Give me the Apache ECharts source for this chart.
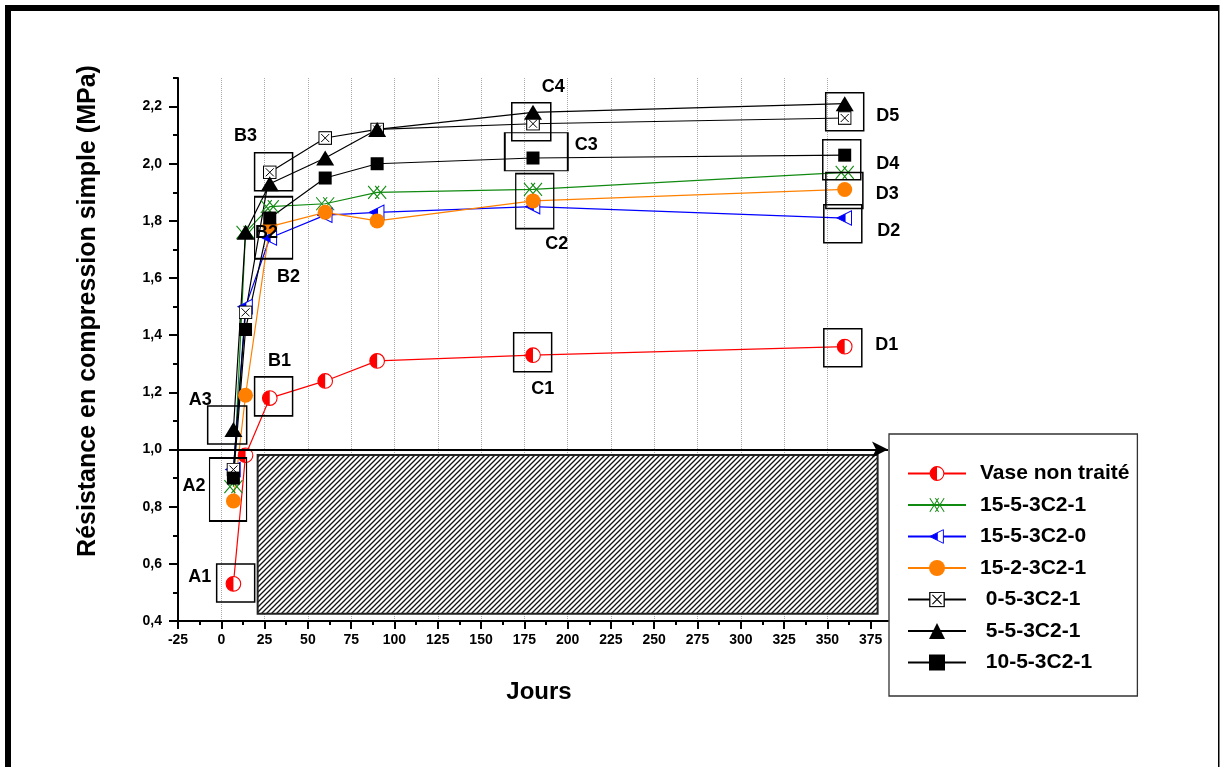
<!DOCTYPE html>
<html>
<head>
<meta charset="utf-8">
<script src="https://cdn.jsdelivr.net/npm/echarts@6/dist/echarts.min.js"></script>
<style>
  html, body { margin: 0; padding: 0; background: #fff; }
  #chart { width: 1222px; height: 767px; }
</style>
</head>
<body>
<div id="chart"></div>
<script>
// jours de cure
const days = [7, 14, 28, 60, 90, 180, 360];

// résistance (MPa) par formulation
const vaseNonTraite = [0.53, 0.98, 1.18, 1.24, 1.31, 1.33, 1.36];
const f15_5_1 = [0.87, 1.76, 1.85, 1.86, 1.90, 1.91, 1.97];
const f15_5_0 = [0.93, 1.50, 1.74, 1.82, 1.83, 1.85, 1.81];
const f15_2_1 = [0.82, 1.19, 1.78, 1.83, 1.80, 1.87, 1.91];
const f0_5_1 = [0.93, 1.48, 1.97, 2.09, 2.12, 2.14, 2.16];
const f5_5_1 = [1.07, 1.76, 1.93, 2.02, 2.12, 2.18, 2.21];
const f10_5_1 = [0.90, 1.42, 1.81, 1.95, 2.00, 2.02, 2.03];

// ticks
const xTickLabels = [-25, 0, 25, 50, 75, 100, 125, 150, 175, 200, 225, 250, 275, 300, 325, 350, 375];
const xMinorTicks = [-12.5, 12.5, 37.5, 62.5, 87.5, 112.5, 137.5, 162.5, 187.5, 212.5, 237.5, 262.5, 287.5, 312.5, 337.5, 362.5];
const yTickLabels = [0.4, 0.6, 0.8, 1.0, 1.2, 1.4, 1.6, 1.8, 2.0, 2.2];

// repères (cadres A1..D5), centres en coordonnées du graphe
const annotLabels = ['A1', 'A2', 'A3', 'B1', 'B2', 'B2', 'B3', 'C1', 'C2', 'C3', 'C4', 'D1', 'D2', 'D3', 'D4', 'D5'];
const annotDays = [8.3, 3.9, 3.4, 30.2, 30.2, 30.2, 30.2, 179.8, 181, 181.9, 179, 358.9, 358.9, 359.8, 358.3, 360];
const annotValues = [0.533, 0.860, 1.086, 1.186, 1.776, 1.776, 1.972, 1.340, 1.869, 2.042, 2.147, 1.356, 1.790, 1.906, 2.014, 2.182];

// zone hachurée et seuil
const hatchDays = [21, 379];
const hatchValues = [0.425, 0.981];
const seuil = 1.0;

// tailles des cadres et décalages des étiquettes (px)
const annotBox = [[38, 38], [37, 63], [39, 38], [38, 39], [38, 62], [0, 0], [38, 38], [38, 39], [38, 55], [63, 38], [39, 38], [38, 38], [38, 38], [37, 36], [38, 40], [38, 38]];
const annotOffset = [[-36, -6], [-34, -4], [-27, -25], [6, -35], [15, 49], [-7, 5], [-28, -36], [10, 37], [22, 43], [50, -7], [22, -35], [44, -3], [46, 7], [43, 3], [46, 4], [43, 4]];

const FONT = '"Liberation Sans", Arial, sans-serif';

function svgSymbol(svg) {
  return 'image://data:image/svg+xml;charset=utf-8,' + encodeURIComponent(svg);
}
const symHalfCircle = svgSymbol("<svg xmlns='http://www.w3.org/2000/svg' width='40' height='40' viewBox='0 0 20 20'><circle cx='10' cy='10' r='8.6' fill='white' stroke='red' stroke-width='1.3'/><path d='M10 1.4 A8.6 8.6 0 0 0 10 18.6 Z' fill='red'/></svg>");
const symCross = svgSymbol("<svg xmlns='http://www.w3.org/2000/svg' width='40' height='30' viewBox='0 0 20 15'><g stroke='#108a10' stroke-width='1.1' fill='none'><path d='M1 1 L12 14 M1 14 L12 1 M8 1 L19 14 M8 14 L19 1'/></g></svg>");
const symHalfTri = svgSymbol("<svg xmlns='http://www.w3.org/2000/svg' width='40' height='40' viewBox='0 0 20 20'><polygon points='1,10 18,1.5 18,18.5' fill='white' stroke='blue' stroke-width='1.2'/><polygon points='1,10 11,5 11,15' fill='blue'/></svg>");
const symBoxX = svgSymbol("<svg xmlns='http://www.w3.org/2000/svg' width='30' height='30' viewBox='0 0 14 14'><rect x='0.7' y='0.7' width='12.6' height='12.6' fill='white' stroke='black' stroke-width='1.1'/><path d='M3 3 L11 11 M3 11 L11 3' stroke='black' stroke-width='1'/></svg>");

function hatchPattern() {
  const c = document.createElement('canvas');
  c.width = 5; c.height = 5;
  const g = c.getContext('2d');
  g.fillStyle = '#fff';
  g.fillRect(0, 0, 5, 5);
  g.strokeStyle = '#111';
  g.lineWidth = 1.3;
  g.beginPath();
  g.moveTo(-1, 6); g.lineTo(6, -1);
  g.moveTo(-3.5, 3.5); g.lineTo(3.5, -3.5);
  g.moveTo(1.5, 8.5); g.lineTo(8.5, 1.5);
  g.stroke();
  return c;
}

function lineSeries(name, values, color, symbol, size) {
  return {
    name: name,
    type: 'line',
    data: days.map((d, i) => [d, values[i]]),
    symbol: symbol,
    symbolSize: size,
    showAllSymbol: true,
    lineStyle: { color: color, width: 1.2 },
    itemStyle: { color: color },
    emphasis: { disabled: true },
    z: 3
  };
}

let mychart = echarts.init(document.getElementById('chart'));

let series = [
  lineSeries('Vase non traité', vaseNonTraite, '#ff0000', symHalfCircle, 17),
  lineSeries('15-5-3C2-1', f15_5_1, '#108a10', symCross, [20, 15]),
  lineSeries('15-5-3C2-0', f15_5_0, '#0000ff', symHalfTri, 17),
  lineSeries('15-2-3C2-1', f15_2_1, '#ff8000', 'circle', 15),
  lineSeries(' 0-5-3C2-1', f0_5_1, '#000000', symBoxX, 14),
  lineSeries(' 5-5-3C2-1', f5_5_1, '#000000', 'triangle', [18, 15]),
  lineSeries(' 10-5-3C2-1', f10_5_1, '#000000', 'rect', 13)
];

// zone hachurée + ligne de seuil sur la première série
series[0].markArea = {
  silent: true,
  itemStyle: { color: { image: hatchPattern(), repeat: 'repeat' }, borderColor: '#222', borderWidth: 2 },
  data: [[{ coord: [hatchDays[0], hatchValues[1]] }, { coord: [hatchDays[1], hatchValues[0]] }]]
};
series[0].markLine = {
  silent: true,
  symbol: ['none', 'arrow'],
  symbolSize: [12, 16],
  label: { show: false },
  lineStyle: { color: '#000', width: 2, type: 'solid' },
  data: [{ yAxis: seuil }]
};

series.push({
  name: 'reperes',
  type: 'scatter',
  symbol: 'rect',
  silent: true,
  z: 6,
  itemStyle: { color: 'rgba(0,0,0,0)', borderColor: '#000', borderWidth: 1.5, opacity: 1 },
  label: { show: true, formatter: '{b}', position: 'inside', fontFamily: FONT, fontWeight: 'bold', fontSize: 18, color: '#000' },
  data: annotLabels.map((l, i) => ({
    name: l,
    value: [annotDays[i], annotValues[i]],
    symbolSize: annotBox[i][0] ? annotBox[i] : 1,
    itemStyle: annotBox[i][0] ? {} : { borderWidth: 0 },
    label: { offset: annotOffset[i] }
  }))
});

let option = {
  animation: false,
  backgroundColor: '#fff',
  grid: { left: 178, right: 334, top: 78, bottom: 146 },
  legend: {
    orient: 'vertical',
    left: 889,
    top: 434,
    data: series.slice(0, 7).map(s => s.name),
    backgroundColor: '#fff',
    borderColor: '#333',
    borderWidth: 1.3,
    padding: [29, 8, 23, 18],
    itemWidth: 58,
    itemHeight: 20,
    itemGap: 10.5,
    textStyle: { fontFamily: FONT, fontWeight: 'bold', fontSize: 21, color: '#000', padding: [0, 0, 0, 9] },
    selectedMode: false,
    z: 10
  },
  xAxis: [{
    type: 'value',
    min: -25,
    max: 385,
    interval: 25,
    name: 'Jours',
    nameLocation: 'middle',
    nameGap: 59,
    nameTextStyle: { fontFamily: FONT, fontWeight: 'bold', fontSize: 24, color: '#000', padding: [0, 0, 0, 12] },
    axisLine: { show: true, onZero: false, lineStyle: { color: '#000', width: 2 } },
    axisTick: { show: true, length: 8, customValues: xTickLabels, lineStyle: { color: '#000', width: 2 } },
    axisLabel: { customValues: xTickLabels, margin: 12, fontFamily: FONT, fontWeight: 'bold', fontSize: 14, color: '#000' },
    splitLine: { show: true, showMaxLine: false, lineStyle: { color: '#aaa', type: 'dotted', width: 1 } }
  }, {
    type: 'value',
    min: -25,
    max: 385,
    position: 'bottom',
    axisLine: { show: false, onZero: false },
    axisTick: { show: true, length: 4, customValues: xMinorTicks, lineStyle: { color: '#000', width: 2 } },
    axisLabel: { show: false },
    splitLine: { show: false }
  }],
  yAxis: [{
    type: 'value',
    min: 0.4,
    max: 2.3,
    interval: 0.1,
    axisLine: { show: true, onZero: false, lineStyle: { color: '#000', width: 2 } },
    axisTick: { show: true, length: 5, lineStyle: { color: '#000', width: 2 } },
    axisLabel: {
      customValues: yTickLabels,
      margin: 16,
      fontFamily: FONT, fontWeight: 'bold', fontSize: 14, color: '#000',
      formatter: v => v.toFixed(1).replace('.', ',')
    },
    splitLine: { show: false }
  }, {
    type: 'value',
    min: 0.4,
    max: 2.3,
    position: 'left',
    axisLine: { show: false, onZero: false },
    axisTick: { show: true, length: 9, customValues: yTickLabels, lineStyle: { color: '#000', width: 2 } },
    axisLabel: { show: false },
    splitLine: { show: false }
  }],
  graphic: [
    { type: 'rect', shape: { x: 5, y: 5, width: 1214, height: 6 }, style: { fill: '#000' }, silent: true },
    { type: 'rect', shape: { x: 5, y: 5, width: 6, height: 770 }, style: { fill: '#000' }, silent: true },
    { type: 'rect', shape: { x: 1218, y: 5, width: 1.5, height: 770 }, style: { fill: '#000' }, silent: true },
    {
      type: 'text', x: 88, y: 311, rotation: Math.PI / 2, silent: true,
      style: { text: 'Résistance en compression simple (MPa)', font: 'bold 25px ' + FONT, fill: '#000', align: 'center', verticalAlign: 'middle' }
    }
  ],
  series: series
};

mychart.setOption(option);
</script>
</body>
</html>
